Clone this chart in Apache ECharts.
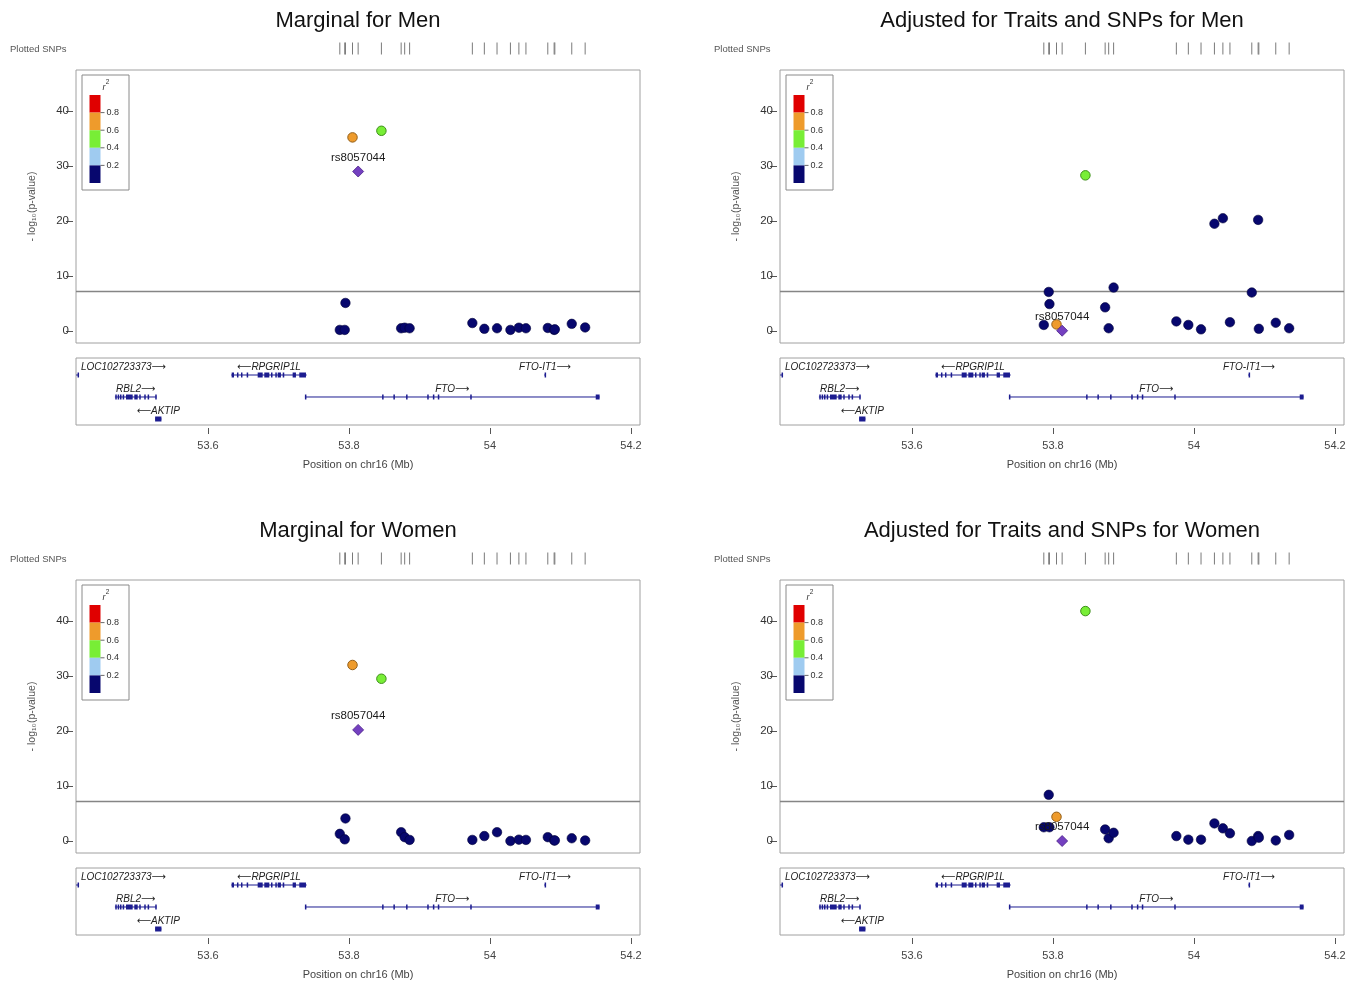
<!DOCTYPE html>
<html><head><meta charset="utf-8">
<script src="https://cdn.jsdelivr.net/npm/echarts@6/dist/echarts.min.js"></script>
<style>html,body{margin:0;padding:0;background:#fff}#c{width:1363px;height:988px}</style>
</head><body><div id="c"></div>
<script>
// ---------------- DATA ----------------
const panelTitles = ['Marginal for Men', 'Adjusted for Traits and SNPs for Men',
                     'Marginal for Women', 'Adjusted for Traits and SNPs for Women'];
// SNP positions on chr16 (Mb)
const snpPos = [53.787, 53.794, 53.795, 53.805, 53.813, 53.846, 53.874, 53.879, 53.886, 53.975,
                53.992, 54.010, 54.029, 54.041, 54.051, 54.082, 54.091, 54.092, 54.116, 54.135];
// LD r^2 with the index SNP
const snpRsq = [0.1, 0.1, 0.1, 0.7, 1.0, 0.5, 0.1, 0.1, 0.1, 0.1,
                0.1, 0.1, 0.1, 0.1, 0.1, 0.1, 0.1, 0.1, 0.1, 0.1];
const leadSnpName = 'rs8057044';
const leadIndex = 4;
// -log10(p) per panel
const logpMenMarginal   = [0.2, 0.2, 5.1, 35.2, 29.0, 36.4, 0.5, 0.6, 0.5, 1.45,
                           0.4, 0.5, 0.2, 0.6, 0.5, 0.55, 0.2, 0.3, 1.3, 0.65];
const logpMenAdjusted   = [1.1, 7.1, 4.9, 1.2, 0.05, 28.3, 4.3, 0.5, 7.9, 1.75,
                           1.1, 0.3, 19.5, 20.5, 1.6, 7.0, 20.2, 0.4, 1.5, 0.5];
const logpWomenMarginal = [1.3, 0.3, 4.1, 32.0, 20.2, 29.5, 1.6, 0.7, 0.2, 0.2,
                           0.9, 1.6, 0.0, 0.25, 0.2, 0.7, 0.1, 0.1, 0.5, 0.1];
const logpWomenAdjusted = [2.5, 8.4, 2.5, 4.4, 0.0, 41.8, 2.1, 0.5, 1.5, 0.9,
                           0.25, 0.25, 3.2, 2.3, 1.4, 0.0, 0.9, 0.6, 0.1, 1.1];
const panelValues = [logpMenMarginal, logpMenAdjusted, logpWomenMarginal, logpWomenAdjusted];
const sigThreshold = 7.3;
const yTicks = [0, 10, 20, 30, 40];
const xTicks = [53.6, 53.8, 54, 54.2];
const ldLegendLabels = ['0.8', '0.6', '0.4', '0.2'];
// genes
const geneNames  = ['LOC102723373', 'RPGRIP1L', 'FTO-IT1', 'RBL2', 'FTO', 'AKTIP'];
const geneStart  = [53.413, 53.633, 54.077, 53.468, 53.7375, 53.525];
const geneEnd    = [53.416, 53.740, 54.079, 53.527, 54.1555, 53.534];
const geneStrand = ['+', '-', '+', '+', '+', '-'];
const geneRow    = [1, 1, 1, 2, 2, 3];
const geneExons  = [
  [[53.415, 53.416]],
  [[53.6336, 53.6369], [53.6411, 53.6418], [53.6468, 53.6475], [53.6549, 53.6556], [53.6705, 53.6776],
   [53.6799, 53.6870], [53.6894, 53.6901], [53.6955, 53.6962], [53.6989, 53.7035], [53.7060, 53.7082],
   [53.7201, 53.7248], [53.7295, 53.7390]],
  [[54.0775, 54.0785]],
  [[53.4685, 53.4692], [53.4719, 53.4726], [53.4752, 53.4759], [53.4790, 53.4797], [53.4837, 53.4932],
   [53.4955, 53.5003], [53.5025, 53.5032], [53.5096, 53.5103], [53.5144, 53.5151], [53.5252, 53.5262]],
  [[53.7375, 53.7385], [53.8470, 53.8477], [53.8630, 53.8637], [53.8810, 53.8817], [53.9110, 53.9117],
   [53.9190, 53.9197], [53.9260, 53.9267], [53.9720, 53.9727], [54.1500, 54.1555]],
  [[53.525, 53.534]]
];

// ---------------- STYLE / LAYOUT ----------------
const FONT = '"Liberation Sans", Arial, Helvetica, sans-serif';
const xMin = 53.4128, xMax = 54.2128;
const yMin = -2.18, yMax = 47.45;
const panelDx = [0, 704, 0, 704];
const panelDy = [0, 0, 510, 510];
const ldColors = ['#07076e', '#9fcbf0', '#78ee36', '#ee9b2c', '#e00000']; // 0-.2, .2-.4, .4-.6, .6-.8, .8-1
const ldBorders = ['#03033a', '#5a8ab0', '#3f8f1c', '#94601a', '#8a0000'];
const geneColor = '#1c1c90';

function ldBin(r) { return r >= 0.8 ? 4 : r >= 0.6 ? 3 : r >= 0.4 ? 2 : r >= 0.2 ? 1 : 0; }

const measureCtx = document.createElement('canvas').getContext('2d');
function textWidth(t, font) { measureCtx.font = font; return measureCtx.measureText(t).width; }

function renderGene(params, api) {
  const i = api.value(3);
  const row = api.value(2);
  const s = api.coord([api.value(0), row]);
  const e = api.coord([api.value(1), row]);
  const cs = params.coordSys;
  const children = [];
  children.push({ type: 'line', shape: { x1: s[0], y1: s[1], x2: Math.max(e[0], s[0] + 1), y2: s[1] },
                  style: { stroke: geneColor, lineWidth: 1 } });
  geneExons[i].forEach(function (ex) {
    const a = api.coord([ex[0], row])[0];
    const b = api.coord([ex[1], row])[0];
    const w = Math.max(b - a, 1.5);
    const h = 5;
    children.push({ type: 'rect', shape: { x: a, y: s[1] - h / 2, width: w, height: h }, style: { fill: geneColor } });
  });
  const label = geneStrand[i] === '+' ? geneNames[i] + '\u27F6' : '\u27F5' + geneNames[i];
  const font = 'italic 10px ' + FONT + ', "DejaVu Sans"';
  const tw = textWidth(label, font);
  let cx = (s[0] + e[0]) / 2;
  cx = Math.max(cs.x + tw / 2 + 5, Math.min(cs.x + cs.width - tw / 2 - 5, cx));
  children.push({ type: 'text', style: { text: label, x: cx, y: s[1] - 8, align: 'center', verticalAlign: 'middle',
                  font: font, fill: '#222' } });
  return { type: 'group', children: children };
}

const grids = [], xAxes = [], yAxes = [], series = [], graphics = [];

for (let p = 0; p < 4; p++) {
  const dx = panelDx[p], dy = panelDy[p];
  const gMain = grids.length;
  grids.push({ left: 76 + dx, top: 70 + dy, width: 564, height: 273, show: true,
               borderColor: '#a0a0a0', borderWidth: 1, backgroundColor: 'transparent' });
  const gGene = grids.length;
  grids.push({ left: 76 + dx, top: 358 + dy, width: 564, height: 67, show: true,
               borderColor: '#a0a0a0', borderWidth: 1, backgroundColor: 'transparent' });
  const gSnp = grids.length;
  grids.push({ left: 76 + dx, top: 42 + dy, width: 564, height: 13, show: false });

  // main axes
  xAxes.push({ type: 'value', gridIndex: gMain, min: xMin, max: xMax, show: false });
  yAxes.push({ type: 'value', gridIndex: gMain, min: yMin, max: yMax, offset: 3,
               name: '- log\u2081\u2080(p-value)', nameLocation: 'middle', nameGap: 35,
               nameTextStyle: { fontFamily: FONT, fontSize: 10.5, color: '#555' },
               axisLine: { show: false }, splitLine: { show: false },
               axisTick: { show: true, length: 7, customValues: yTicks, lineStyle: { color: '#555' } },
               axisLabel: { customValues: yTicks, fontFamily: FONT, fontSize: 11.5, color: '#333', margin: 4 } });
  // gene axes
  xAxes.push({ type: 'value', gridIndex: gGene, min: xMin, max: xMax, position: 'bottom', offset: 3,
               name: 'Position on chr16 (Mb)', nameLocation: 'middle', nameGap: 31,
               nameTextStyle: { fontFamily: FONT, fontSize: 11, color: '#444' },
               axisLine: { show: false }, splitLine: { show: false },
               axisTick: { show: true, length: 6, customValues: xTicks, lineStyle: { color: '#555' } },
               axisLabel: { customValues: xTicks, fontFamily: FONT, fontSize: 11, color: '#444', margin: 12 } });
  yAxes.push({ type: 'value', gridIndex: gGene, min: 0.227, max: 3.273, inverse: true, show: false });
  // snp strip axes
  xAxes.push({ type: 'value', gridIndex: gSnp, min: xMin, max: xMax, show: false });
  yAxes.push({ type: 'value', gridIndex: gSnp, min: 0, max: 1, show: false });

  // scatter data
  const vals = panelValues[p];
  const order = [];
  for (let i = 0; i < snpPos.length; i++) if (ldBin(snpRsq[i]) === 0 && i !== leadIndex) order.push(i);
  for (let i = 0; i < snpPos.length; i++) if (ldBin(snpRsq[i]) !== 0 && i !== leadIndex) order.push(i);
  order.push(leadIndex);
  const data = order.map(function (i) {
    if (i === leadIndex) {
      return { value: [snpPos[i], vals[i]], symbol: 'diamond', symbolSize: 11,
               itemStyle: { color: '#7440c0', borderColor: '#4a1f88', borderWidth: 0.8, opacity: 1 },
               label: { show: true, formatter: leadSnpName, position: 'top', distance: 2,
                        fontFamily: FONT, fontSize: 11.5, color: '#1a1a1a' } };
    }
    const b = ldBin(snpRsq[i]);
    return { value: [snpPos[i], vals[i]], symbol: 'circle', symbolSize: 9.5,
             itemStyle: { color: ldColors[b], borderColor: ldBorders[b], borderWidth: b === 0 ? 0.6 : 1, opacity: 1 } };
  });
  series.push({ type: 'scatter', xAxisIndex: gMain, yAxisIndex: gMain, data: data, silent: true,
                animation: false, z: 5, itemStyle: { opacity: 1 },
                markLine: { silent: true, symbol: 'none', animation: false,
                            lineStyle: { color: '#858585', width: 1.4, type: 'solid', opacity: 1 },
                            label: { show: false }, data: [{ yAxis: sigThreshold }] } });
  // plotted SNP ticks
  series.push({ type: 'scatter', xAxisIndex: gSnp, yAxisIndex: gSnp, silent: true, animation: false,
                symbol: 'rect', symbolSize: [1, 12], itemStyle: { color: '#7a7a7a', opacity: 1 },
                data: snpPos.map(function (x) { return [x, 0.5]; }) });
  // genes
  series.push({ type: 'custom', xAxisIndex: gGene, yAxisIndex: gGene, silent: true, animation: false,
                renderItem: renderGene, clip: false,
                data: geneNames.map(function (n, i) { return [geneStart[i], geneEnd[i], geneRow[i], i]; }) });

  // title
  graphics.push({ type: 'text', x: 358 + dx, y: 21 + dy, silent: true,
                  style: { text: panelTitles[p], font: '22px ' + FONT, fill: '#111', align: 'center', verticalAlign: 'middle' } });
  graphics.push({ type: 'text', x: 10 + dx, y: 49 + dy, silent: true,
                  style: { text: 'Plotted SNPs', font: '9.5px ' + FONT, fill: '#555', align: 'left', verticalAlign: 'middle' } });
  // LD legend
  const lx = 82 + dx, ly = 75 + dy;
  const lg = [];
  lg.push({ type: 'rect', shape: { x: lx, y: ly, width: 47, height: 115 }, style: { fill: '#fff', stroke: '#8a8a8a', lineWidth: 1 } });
  lg.push({ type: 'text', style: { text: 'r', x: lx + 22, y: ly + 12, font: 'italic 9px ' + FONT, fill: '#333', align: 'center', verticalAlign: 'middle' } });
  lg.push({ type: 'text', style: { text: '2', x: lx + 25.5, y: ly + 7, font: '6.5px ' + FONT, fill: '#333', align: 'center', verticalAlign: 'middle' } });
  const barX = lx + 7.5, barW = 11, bandH = 17.6, barTop = ly + 20;
  for (let k = 0; k < 5; k++) {
    lg.push({ type: 'rect', shape: { x: barX, y: barTop + k * bandH, width: barW, height: bandH },
              style: { fill: ldColors[4 - k] } });
  }
  for (let k = 0; k < 4; k++) {
    const yy = barTop + (k + 1) * bandH;
    lg.push({ type: 'line', shape: { x1: barX + barW, y1: yy, x2: barX + barW + 4, y2: yy }, style: { stroke: '#444', lineWidth: 0.8 } });
    lg.push({ type: 'text', style: { text: ldLegendLabels[k], x: barX + barW + 6, y: yy, font: '9px ' + FONT, fill: '#333', align: 'left', verticalAlign: 'middle' } });
  }
  graphics.push({ type: 'group', silent: true, z: 10, children: lg });
}

const chart = echarts.init(document.getElementById('c'), null, { renderer: 'canvas' });
chart.setOption({
  animation: false,
  backgroundColor: '#ffffff',
  textStyle: { fontFamily: FONT },
  grid: grids, xAxis: xAxes, yAxis: yAxes, series: series, graphic: graphics
});
</script></body></html>
